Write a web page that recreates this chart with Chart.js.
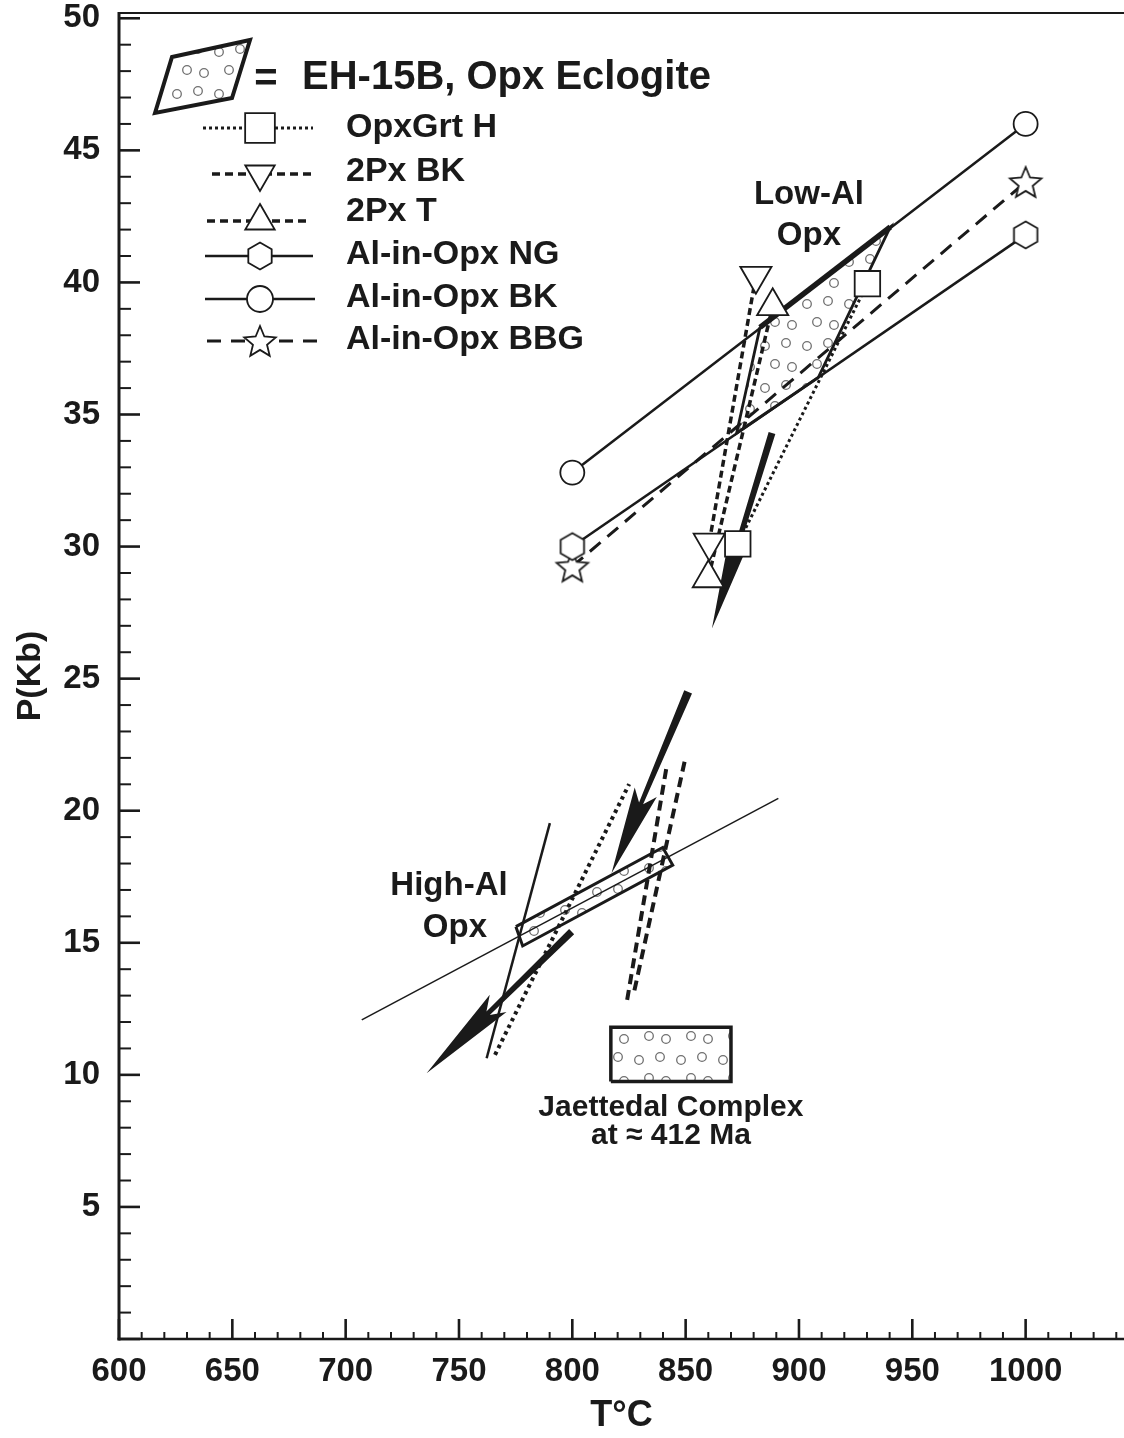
<!DOCTYPE html>
<html>
<head>
<meta charset="utf-8">
<script src="https://cdn.jsdelivr.net/npm/chart.js@4.4.1/dist/chart.umd.min.js"></script>
<style>
  html, body { margin: 0; padding: 0; background: #fff; }
  canvas { display: block; }
</style>
</head>
<body>
<canvas id="grafico" width="1124" height="1438"></canvas>
<script>
// --- DADOS (T em °C, P em Kb) ---
const xTickValues = [600, 650, 700, 750, 800, 850, 900, 950, 1000];
const yTickValues = [5, 10, 15, 20, 25, 30, 35, 40, 45, 50];

// isopletas com marcadores (Low-Al Opx)
const opxGrtH_T = [873.0, 930.2];
const opxGrtH_P = [30.1, 39.95];
const px2BK_T = [860.4, 881.0];
const px2BK_P = [30.15, 40.25];
const px2T_T = [860.0, 888.4];
const px2T_P = [28.8, 39.1];
const alNG_T = [800, 1000];
const alNG_P = [30.0, 41.8];
const alBK_T = [800, 1000];
const alBK_P = [32.8, 46.0];
const alBBG_T = [800, 1000];
const alBBG_P = [29.25, 43.8];

// isopletas sem marcadores (High-Al Opx)
const hiThin_T = [707.1, 890.9];
const hiThin_P = [12.08, 20.47];
const hiSolid_T = [762.2, 790.1];
const hiSolid_P = [10.63, 19.53];
const hiDot_T = [765.9, 825.1];
const hiDot_P = [10.76, 21.01];
const hiDashA_T = [824.2, 841.6];
const hiDashA_P = [12.84, 21.67];
const hiDashB_T = [827.4, 849.7];
const hiDashB_P = [13.2, 21.92];

// campos pontilhados
const eh15b_T = [882.8, 940.3, 908.5, 872.5, 882.8];
const eh15b_P = [38.3, 42.1, 36.4, 34.3, 38.3];
const highAl_T = [775.1, 839.9, 844.3, 778.1, 775.1];
const highAl_P = [15.61, 18.61, 17.94, 14.88, 15.61];
const jaet_T = [817, 870, 870, 817, 817];
const jaet_P = [9.75, 9.75, 11.8, 11.8, 9.75];

// setas (cauda -> ponta)
const setaCauda_T = [888.1, 851.1, 799.7];
const setaCauda_P = [34.3, 24.5, 15.42];
const setaPonta_T = [861.6, 817.3, 735.7];
const setaPonta_P = [26.9, 17.63, 10.06];

// textos no gráfico
const notaTexto = ['Low-Al', 'Opx', 'High-Al', 'Opx', 'Jaettedal Complex', 'at \u2248 412 Ma'];
const notaT = [904.4, 904.4, 745.6, 748.2, 843.5, 843.5];
const notaP = [43.32, 41.76, 17.14, 15.55, 8.75, 7.69];

// --- ESTILO ---
const fonte = '"Liberation Sans", Arial, Helvetica, sans-serif';
const cor = '#1a1a1a';
const canvas = document.getElementById('grafico');
const ctxPrincipal = canvas.getContext('2d');

function pts(ts, ps) {
    return ts.map((t, i) => ({ x: t, y: ps[i] }));
}

function criarPadraoPontos() {
    const c = document.createElement('canvas');
    c.width = 42; c.height = 42;
    const g = c.getContext('2d');
    g.strokeStyle = '#707070';
    g.lineWidth = 1.3;
    [[9, 10], [30, 7], [19, 28], [36, 31]].forEach(([x, y]) => {
        g.beginPath();
        g.arc(x, y, 4.3, 0, Math.PI * 2);
        g.stroke();
    });
    return ctxPrincipal.createPattern(c, 'repeat');
}

function criarMarcador(tipo) {
    const s = tipo === 'estrela' ? 38 : 32;
    const c = document.createElement('canvas');
    c.width = s; c.height = s;
    const g = c.getContext('2d');
    const cx = s / 2, cy = s / 2;
    g.beginPath();
    if (tipo === 'hexagono') {
        for (let k = 0; k < 6; k++) {
            const a = -Math.PI / 2 + k * Math.PI / 3;
            const px = cx + 13.5 * Math.cos(a), py = cy + 13.5 * Math.sin(a);
            k === 0 ? g.moveTo(px, py) : g.lineTo(px, py);
        }
    } else {
        for (let k = 0; k < 10; k++) {
            const a = -Math.PI / 2 + k * Math.PI / 5;
            const r = k % 2 === 0 ? 16.5 : 7.4;
            const px = cx + r * Math.cos(a), py = cy + 1.5 + r * Math.sin(a);
            k === 0 ? g.moveTo(px, py) : g.lineTo(px, py);
        }
    }
    g.closePath();
    g.fillStyle = '#fff';
    g.fill();
    g.lineWidth = 1.8;
    g.strokeStyle = cor;
    g.stroke();
    return c;
}

const padrao = criarPadraoPontos();
const hexagono = criarMarcador('hexagono');
const estrela = criarMarcador('estrela');

function linha(label, ts, ps, estilo) {
    return Object.assign({
        label,
        data: pts(ts, ps),
        showLine: true,
        borderColor: cor,
        backgroundColor: 'rgba(0,0,0,0)',
        borderWidth: 2.5,
        pointRadius: 0,
        pointHoverRadius: 0,
        pointBorderColor: cor,
        pointBackgroundColor: '#fff',
        pointBorderWidth: 1.8,
        fill: false,
        tension: 0
    }, estilo);
}

const datasets = [
    linha('OpxGrt H', opxGrtH_T, opxGrtH_P, { borderWidth: 3, borderDash: [3, 3], pointStyle: 'rect', pointRadius: 18 }),
    linha('2Px BK', px2BK_T, px2BK_P, { borderWidth: 3.5, borderDash: [7, 4], pointStyle: 'triangle', pointRotation: 180, pointRadius: 18 }),
    linha('2Px T', px2T_T, px2T_P, { borderWidth: 3.5, borderDash: [7, 4], pointStyle: 'triangle', pointRadius: 18 }),
    linha('Al-in-Opx NG', alNG_T, alNG_P, { borderWidth: 2.5, pointStyle: hexagono, pointRadius: 13 }),
    linha('Al-in-Opx BK', alBK_T, alBK_P, { borderWidth: 2.5, pointStyle: 'circle', pointRadius: 12 }),
    linha('Al-in-Opx BBG', alBBG_T, alBBG_P, { borderWidth: 3, borderDash: [14, 9], pointStyle: estrela, pointRadius: 16 }),
    linha('EH-15B top', eh15b_T.slice(0, 2), eh15b_P.slice(0, 2), { borderWidth: 5.5 }),
    linha('High-Al thin', hiThin_T, hiThin_P, { borderWidth: 1.5 }),
    linha('High-Al solid', hiSolid_T, hiSolid_P, { borderWidth: 2.5 }),
    linha('High-Al dotted', hiDot_T, hiDot_P, { borderWidth: 4, borderDash: [3.5, 4] }),
    linha('High-Al dash A', hiDashA_T, hiDashA_P, { borderWidth: 4, borderDash: [10, 6] }),
    linha('High-Al dash B', hiDashB_T, hiDashB_P, { borderWidth: 4, borderDash: [10, 6] }),
    linha('High-Al field', highAl_T, highAl_P, { borderWidth: 3, fill: 'shape', backgroundColor: padrao }),
    linha('EH-15B', eh15b_T, eh15b_P, { borderWidth: 2.8, fill: 'shape', backgroundColor: padrao }),
    linha('Jaettedal Complex', jaet_T, jaet_P, { borderWidth: 3.5, fill: 'shape', backgroundColor: padrao })
];

// --- PLUGINS ---
const pluginSetas = {
    id: 'setas',
    beforeDatasetsDraw(chart) {
        const { ctx, scales: { x, y } } = chart;
        const estilo = [
            { w0: 3.5, w1: 2.5, head: 80, hw: 10, back: 10 },
            { w0: 4.2, w1: 2.2, head: 76, hw: 12, back: 12 },
            { w0: 3.6, w1: 2.4, head: 86, hw: 12, back: 14 }
        ];
        ctx.save();
        ctx.fillStyle = cor;
        setaCauda_T.forEach((_, i) => {
            const x0 = x.getPixelForValue(setaCauda_T[i]), y0 = y.getPixelForValue(setaCauda_P[i]);
            const x1 = x.getPixelForValue(setaPonta_T[i]), y1 = y.getPixelForValue(setaPonta_P[i]);
            const len = Math.hypot(x1 - x0, y1 - y0);
            const ux = (x1 - x0) / len, uy = (y1 - y0) / len;
            const nx = -uy, ny = ux;
            const e = estilo[i];
            const bx = x1 - ux * e.head, by = y1 - uy * e.head;
            ctx.beginPath();
            ctx.moveTo(x0 + nx * e.w0, y0 + ny * e.w0);
            ctx.lineTo(bx + nx * e.w1, by + ny * e.w1);
            ctx.lineTo(bx - ux * e.back + nx * e.hw, by - uy * e.back + ny * e.hw);
            ctx.lineTo(x1, y1);
            ctx.lineTo(bx - ux * e.back - nx * e.hw, by - uy * e.back - ny * e.hw);
            ctx.lineTo(bx - nx * e.w1, by - ny * e.w1);
            ctx.lineTo(x0 - nx * e.w0, y0 - ny * e.w0);
            ctx.closePath();
            ctx.fill();
        });
        ctx.restore();
    }
};

const pluginNotas = {
    id: 'notas',
    afterDatasetsDraw(chart) {
        const { ctx, scales: { x, y } } = chart;
        ctx.save();
        ctx.fillStyle = cor;
        ctx.textAlign = 'center';
        ctx.textBaseline = 'middle';
        notaTexto.forEach((txt, i) => {
            const tamanho = i >= 4 ? 30 : 33;
            ctx.font = `bold ${tamanho}px ${fonte}`;
            ctx.fillText(txt, x.getPixelForValue(notaT[i]), y.getPixelForValue(notaP[i]));
        });
        ctx.restore();
    }
};

const pluginEixos = {
    id: 'eixos',
    afterDraw(chart) {
        const { ctx, chartArea: a, scales: { x, y } } = chart;
        ctx.save();
        ctx.strokeStyle = cor;
        for (let p = 0; p <= 50; p += 1) {
            const py = y.getPixelForValue(p);
            const major = p % 5 === 0;
            ctx.lineWidth = major ? 2.6 : 2;
            ctx.beginPath();
            ctx.moveTo(a.left, py);
            ctx.lineTo(a.left + (major ? 21 : 12), py);
            ctx.stroke();
        }
        for (let t = 600; t <= x.max; t += 10) {
            const px = x.getPixelForValue(t);
            const major = t % 50 === 0;
            ctx.lineWidth = major ? 2.6 : 2;
            ctx.beginPath();
            ctx.moveTo(px, a.bottom);
            ctx.lineTo(px, a.bottom - (major ? 20 : 7));
            ctx.stroke();
        }
        ctx.lineWidth = 3;
        ctx.beginPath();
        ctx.moveTo(a.left, a.top - 1);
        ctx.lineTo(a.left, a.bottom + 1.5);
        ctx.stroke();
        ctx.lineWidth = 2.6;
        ctx.beginPath();
        ctx.moveTo(a.left - 1.5, a.bottom);
        ctx.lineTo(a.right, a.bottom);
        ctx.stroke();
        ctx.lineWidth = 2;
        ctx.beginPath();
        ctx.moveTo(a.left, a.top);
        ctx.lineTo(a.right, a.top);
        ctx.stroke();
        ctx.restore();
    }
};

const pluginLegenda = {
    id: 'legenda',
    afterDraw(chart) {
        const { ctx } = chart;
        const ds = chart.data.datasets;
        ctx.save();
        // ícone do campo EH-15B
        ctx.beginPath();
        ctx.moveTo(155, 113);
        ctx.lineTo(172, 57);
        ctx.lineTo(250, 40);
        ctx.lineTo(232, 98);
        ctx.closePath();
        ctx.fillStyle = padrao;
        ctx.fill();
        ctx.lineWidth = 4;
        ctx.lineJoin = 'miter';
        ctx.strokeStyle = cor;
        ctx.stroke();

        ctx.fillStyle = cor;
        ctx.textBaseline = 'middle';
        ctx.font = `bold 40px ${fonte}`;
        ctx.textAlign = 'center';
        ctx.fillText('=', 266, 80);
        ctx.textAlign = 'left';
        ctx.fillText('EH-15B, Opx Eclogite', 302, 78);

        const linhas = [
            { i: 0, yl: 128, yt: 128, x0: 203, x1: 313, r: 21, dash: [3, 3] },
            { i: 1, yl: 174, yt: 172, x0: 212, x1: 312, r: 17, dash: [8, 5] },
            { i: 2, yl: 221, yt: 212, x0: 207, x1: 307, r: 17, dash: [8, 5] },
            { i: 3, yl: 256, yt: 255, x0: 205, x1: 313, r: 13 },
            { i: 4, yl: 299, yt: 298, x0: 205, x1: 315, r: 13 },
            { i: 5, yl: 341, yt: 340, x0: 207, x1: 327, r: 16, dash: [14, 10] }
        ];
        ctx.font = `bold 34px ${fonte}`;
        linhas.forEach(l => {
            const d = ds[l.i];
            ctx.save();
            ctx.strokeStyle = cor;
            ctx.lineWidth = d.borderWidth;
            ctx.setLineDash(l.dash || []);
            ctx.beginPath();
            ctx.moveTo(l.x0, l.yl);
            ctx.lineTo(l.x1, l.yl);
            ctx.stroke();
            ctx.setLineDash([]);
            ctx.fillStyle = '#fff';
            ctx.lineWidth = 1.8;
            Chart.helpers.drawPoint(ctx, {
                pointStyle: d.pointStyle,
                radius: l.r,
                rotation: d.pointRotation || 0,
                borderWidth: 1.8
            }, 260, l.yl);
            ctx.restore();
            ctx.fillStyle = cor;
            ctx.fillText(d.label, 346, l.yt);
        });
        ctx.restore();
    }
};

// --- GRÁFICO ---
const fonteTicks = { family: fonte, size: 33, weight: 'bold' };

new Chart(ctxPrincipal, {
    type: 'scatter',
    data: { datasets },
    options: {
        responsive: false,
        animation: false,
        events: [],
        layout: { autoPadding: false, padding: { top: 13, right: 0, bottom: 0, left: 0 } },
        plugins: {
            legend: { display: false },
            tooltip: { enabled: false }
        },
        scales: {
            x: {
                type: 'linear',
                min: 600,
                max: 1043.4,
                grid: { display: false, drawTicks: false },
                border: { display: false },
                afterBuildTicks: s => { s.ticks = xTickValues.map(v => ({ value: v })); },
                afterFit: s => {
                    s.height = 99;
                    s.paddingLeft = 0; s.paddingRight = 0; s.paddingTop = 0; s.paddingBottom = 0;
                },
                ticks: { font: fonteTicks, color: cor, padding: 13, autoSkip: false, maxRotation: 0, callback: v => String(v) },
                title: { display: true, text: 'T°C', color: cor, font: { family: fonte, size: 36, weight: 'bold' }, padding: { top: 0, bottom: 0 } }
            },
            y: {
                type: 'linear',
                min: 0,
                max: 50.2,
                grid: { display: false, drawTicks: false },
                border: { display: false },
                afterBuildTicks: s => { s.ticks = yTickValues.map(v => ({ value: v })); },
                afterFit: s => {
                    s.width = 119;
                    s.paddingLeft = 0; s.paddingRight = 0; s.paddingTop = 0; s.paddingBottom = 0;
                },
                ticks: { font: fonteTicks, color: cor, padding: 19, autoSkip: false, callback: v => String(v) },
                title: { display: true, text: 'P(Kb)', color: cor, font: { family: fonte, size: 34, weight: 'bold' }, padding: { top: 10, bottom: 0 } }
            }
        }
    },
    plugins: [pluginSetas, pluginNotas, pluginEixos, pluginLegenda]
});
</script>
</body>
</html>
